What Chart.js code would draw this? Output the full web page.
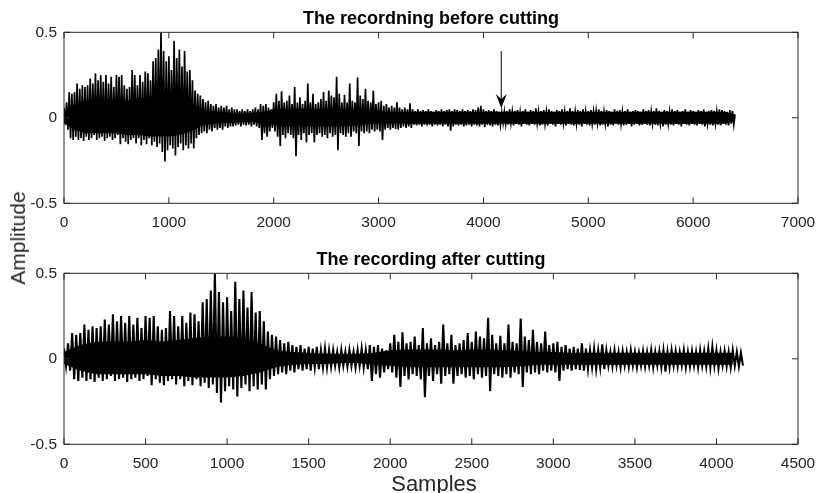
<!DOCTYPE html>
<html>
<head>
<meta charset="utf-8">
<script src="https://cdn.jsdelivr.net/npm/chart.js@4/dist/chart.umd.min.js"></script>
<style>
  body { margin: 0; background: #fff; width: 817px; height: 493px; position: relative; overflow: hidden;
         font-family: "Liberation Sans", Arial, sans-serif; }
  #top { position: absolute; left: 0; top: 0; }
  #bottom { position: absolute; left: 0; top: 245px; }
  #ylab { position: absolute; left: 18px; top: 238px; transform: translate(-50%, -50%) rotate(-90deg);
          font-size: 21px; color: #262626; white-space: nowrap; }
  #xlab { position: absolute; left: 434px; top: 484px; transform: translate(-50%, -50%);
          font-size: 22px; color: #262626; white-space: nowrap; }
</style>
</head>
<body>
<canvas id="top" width="817" height="245"></canvas>
<canvas id="bottom" width="817" height="248"></canvas>
<div id="ylab">Amplitude</div>
<div id="xlab">Samples</div>
<script>
// envelope of the recording, one max and one min every 25 samples (0..6400)
const STEP = 25;
const upper = [
  0.06, 0.09, 0.15, 0.14, 0.15, 0.20, 0.17, 0.19,
  0.18, 0.19, 0.23, 0.20, 0.26, 0.22, 0.25, 0.21,
  0.25, 0.20, 0.24, 0.18, 0.25, 0.24, 0.25, 0.19,
  0.17, 0.18, 0.28, 0.25, 0.19, 0.25, 0.21, 0.27,
  0.26, 0.22, 0.33, 0.35, 0.40, 0.50, 0.39, 0.33,
  0.36, 0.28, 0.45, 0.35, 0.40, 0.30, 0.39, 0.27,
  0.28, 0.22, 0.16, 0.14, 0.13, 0.11, 0.09, 0.10,
  0.08, 0.07, 0.08, 0.06, 0.07, 0.06, 0.07, 0.05,
  0.06, 0.05, 0.05, 0.04, 0.05, 0.04, 0.05, 0.04,
  0.05, 0.06, 0.05, 0.08, 0.07, 0.08, 0.06, 0.05,
  0.09, 0.14, 0.10, 0.155, 0.09, 0.10, 0.13, 0.08,
  0.18, 0.09, 0.12, 0.08, 0.10, 0.20, 0.09, 0.14,
  0.08, 0.09, 0.11, 0.15, 0.10, 0.16, 0.13, 0.12,
  0.24, 0.14, 0.09, 0.135, 0.09, 0.20, 0.10, 0.09,
  0.235, 0.13, 0.11, 0.17, 0.10, 0.09, 0.16, 0.08,
  0.09, 0.10, 0.07, 0.08, 0.06, 0.07, 0.06, 0.09,
  0.06, 0.05, 0.06, 0.05, 0.085, 0.05, 0.04, 0.05,
  0.04, 0.045, 0.04, 0.05, 0.04, 0.035, 0.045, 0.04,
  0.05, 0.04, 0.045, 0.05, 0.04, 0.05, 0.045, 0.04,
  0.05, 0.04, 0.045, 0.04, 0.05, 0.045, 0.06, 0.07,
  0.05, 0.04, 0.045, 0.04, 0.05, 0.04, 0.035, 0.03,
  0.035, 0.04, 0.05, 0.035, 0.04, 0.045, 0.03, 0.04,
  0.05, 0.035, 0.045, 0.04, 0.055, 0.035, 0.04, 0.045,
  0.035, 0.05, 0.04, 0.035, 0.045, 0.04, 0.05, 0.035,
  0.04, 0.055, 0.04, 0.035, 0.045, 0.04, 0.05, 0.035,
  0.04, 0.045, 0.035, 0.04, 0.05, 0.04, 0.035, 0.045,
  0.04, 0.035, 0.05, 0.04, 0.045, 0.035, 0.04, 0.05,
  0.035, 0.04, 0.045, 0.04, 0.035, 0.05, 0.04, 0.045,
  0.035, 0.04, 0.055, 0.04, 0.035, 0.045, 0.04, 0.035,
  0.05, 0.04, 0.045, 0.035, 0.04, 0.05, 0.035, 0.045,
  0.04, 0.035, 0.045, 0.04, 0.05, 0.035, 0.04, 0.045,
  0.04, 0.035, 0.05, 0.045, 0.04, 0.035, 0.045, 0.04,
  0.02
];
const lower = [
  -0.04, -0.07, -0.12, -0.13, -0.11, -0.13, -0.12, -0.135,
  -0.11, -0.13, -0.12, -0.10, -0.13, -0.12, -0.11, -0.135,
  -0.12, -0.11, -0.13, -0.12, -0.10, -0.155, -0.12, -0.14,
  -0.155, -0.13, -0.12, -0.15, -0.12, -0.16, -0.13, -0.155,
  -0.12, -0.16, -0.14, -0.17, -0.15, -0.20, -0.255, -0.19,
  -0.16, -0.18, -0.22, -0.17, -0.15, -0.19, -0.16, -0.18,
  -0.15, -0.18, -0.12, -0.10, -0.09, -0.08, -0.09, -0.07,
  -0.08, -0.06, -0.07, -0.06, -0.07, -0.05, -0.06, -0.05,
  -0.05, -0.045, -0.04, -0.05, -0.04, -0.045, -0.04, -0.05,
  -0.04, -0.05, -0.06, -0.13, -0.09, -0.11, -0.08, -0.06,
  -0.08, -0.11, -0.165, -0.10, -0.12, -0.09, -0.10, -0.12,
  -0.225, -0.10, -0.13, -0.09, -0.145, -0.10, -0.09, -0.145,
  -0.10, -0.09, -0.11, -0.10, -0.12, -0.09, -0.11, -0.10,
  -0.19, -0.09, -0.10, -0.11, -0.09, -0.11, -0.08, -0.09,
  -0.165, -0.08, -0.09, -0.08, -0.09, -0.07, -0.08, -0.07,
  -0.08, -0.13, -0.07, -0.06, -0.07, -0.06, -0.065, -0.07,
  -0.06, -0.05, -0.06, -0.05, -0.06, -0.04, -0.045, -0.04,
  -0.05, -0.04, -0.045, -0.04, -0.05, -0.04, -0.045, -0.04,
  -0.05, -0.04, -0.05, -0.075, -0.05, -0.04, -0.045, -0.04,
  -0.05, -0.045, -0.04, -0.05, -0.04, -0.045, -0.05, -0.04,
  -0.055, -0.04, -0.045, -0.05, -0.04, -0.045, -0.04, -0.03,
  -0.035, -0.04, -0.03, -0.045, -0.035, -0.04, -0.05, -0.035,
  -0.04, -0.045, -0.035, -0.04, -0.03, -0.045, -0.04, -0.035,
  -0.045, -0.035, -0.04, -0.05, -0.035, -0.04, -0.03, -0.045,
  -0.035, -0.04, -0.045, -0.035, -0.04, -0.05, -0.035, -0.04,
  -0.045, -0.035, -0.04, -0.03, -0.045, -0.04, -0.035, -0.05,
  -0.04, -0.045, -0.035, -0.04, -0.035, -0.045, -0.04, -0.035,
  -0.05, -0.04, -0.035, -0.045, -0.04, -0.035, -0.04, -0.045,
  -0.035, -0.04, -0.045, -0.035, -0.05, -0.04, -0.035, -0.04,
  -0.045, -0.035, -0.04, -0.05, -0.035, -0.04, -0.045, -0.035,
  -0.04, -0.045, -0.035, -0.04, -0.05, -0.035, -0.04, -0.045,
  -0.035, -0.04, -0.045, -0.035, -0.04, -0.045, -0.035, -0.04,
  -0.02
];
// solid core of the waveform, every 100 samples
const CORE_STEP = 100;
const coreHi = [
  0.04, 0.08, 0.10, 0.10, 0.10, 0.11, 0.10, 0.11, 0.12, 0.13,
  0.13, 0.12, 0.09, 0.05, 0.04, 0.035, 0.03, 0.03, 0.03, 0.035,
  0.05, 0.055, 0.055, 0.055, 0.05, 0.055, 0.055, 0.05, 0.045, 0.04,
  0.04, 0.035, 0.035, 0.035, 0.035, 0.035, 0.035, 0.035, 0.035, 0.035,
  0.035, 0.035, 0.035, 0.035, 0.035, 0.035, 0.035, 0.035, 0.035, 0.035,
  0.035, 0.035, 0.035, 0.035, 0.035, 0.035, 0.035, 0.035, 0.035, 0.035,
  0.035, 0.035, 0.035, 0.035, 0.02
];
const coreLo = [
  -0.03, -0.07, -0.09, -0.09, -0.09, -0.09, -0.10, -0.10, -0.11, -0.11,
  -0.11, -0.10, -0.08, -0.05, -0.035, -0.03, -0.03, -0.025, -0.025, -0.035,
  -0.04, -0.05, -0.05, -0.05, -0.05, -0.05, -0.05, -0.05, -0.045, -0.035,
  -0.035, -0.035, -0.035, -0.035, -0.035, -0.035, -0.035, -0.035, -0.035, -0.035,
  -0.035, -0.035, -0.035, -0.035, -0.035, -0.035, -0.035, -0.035, -0.035, -0.035,
  -0.035, -0.035, -0.035, -0.035, -0.035, -0.035, -0.035, -0.035, -0.035, -0.035,
  -0.035, -0.035, -0.035, -0.035, -0.02
];
const yTicks = [-0.5, 0, 0.5];
const cutPoint = 4170;       // where the recording was cut
const arrowFrom = 0.39, arrowTo = 0.057;

const AXIS = '#262626';
const FONT = '"Liberation Sans", Arial, sans-serif';

function wave(cut) {
  const pts = [];
  for (let i = 0; i < upper.length; i++) {
    const s = i * STEP;
    if (s <= cut) pts.push({ x: s, y: upper[i] });
    if (s + STEP / 2 <= cut) pts.push({ x: s + STEP / 2, y: lower[i] });
  }
  return pts;
}
function core(arr, cut) {
  return arr.map((v, i) => ({ x: i * CORE_STEP, y: v })).filter(p => p.x <= cut);
}

const boxPlugin = {
  id: 'box',
  afterDraw(chart, args, opts) {
    const { ctx, chartArea: a, scales: { x, y } } = chart;
    ctx.save();
    ctx.strokeStyle = AXIS;
    ctx.lineWidth = 1;
    ctx.strokeRect(a.left, a.top, a.right - a.left, a.bottom - a.top);
    ctx.beginPath();
    x.ticks.forEach(t => {
      const px = x.getPixelForValue(t.value);
      ctx.moveTo(px, a.bottom); ctx.lineTo(px, a.bottom - 6);
      ctx.moveTo(px, a.top); ctx.lineTo(px, a.top + 6);
    });
    yTicks.forEach(v => {
      const py = y.getPixelForValue(v);
      ctx.moveTo(a.left, py); ctx.lineTo(a.left + 6, py);
      ctx.moveTo(a.right, py); ctx.lineTo(a.right - 6, py);
    });
    ctx.stroke();
    // title
    ctx.fillStyle = '#000';
    ctx.font = 'bold 18px ' + FONT;
    ctx.textAlign = 'center';
    ctx.textBaseline = 'alphabetic';
    ctx.fillText(opts.title, (a.left + a.right) / 2, a.top - 8.5);
    // arrow marking the cut
    if (opts.arrow) {
      const ax = x.getPixelForValue(cutPoint);
      const y0 = y.getPixelForValue(arrowFrom), y1 = y.getPixelForValue(arrowTo);
      ctx.strokeStyle = '#000';
      ctx.beginPath();
      ctx.moveTo(ax, y0); ctx.lineTo(ax, y1 - 6);
      ctx.stroke();
      ctx.beginPath();
      ctx.moveTo(ax, y1);
      ctx.lineTo(ax - 5.5, y1 - 14);
      ctx.lineTo(ax, y1 - 9);
      ctx.lineTo(ax + 5.5, y1 - 14);
      ctx.closePath();
      ctx.fill();
    }
    ctx.restore();
  }
};

function makeChart(id, title, xMax, xStep, cut, padTop, xAxisH, lineW, arrow) {
  return new Chart(document.getElementById(id), {
    type: 'line',
    data: {
      datasets: [
        { data: core(coreHi, cut), fill: '+1', backgroundColor: '#000', borderWidth: 0, pointRadius: 0 },
        { data: core(coreLo, cut), fill: false, borderWidth: 0, pointRadius: 0 },
        { data: wave(cut), fill: false, borderColor: '#000', borderWidth: lineW, pointRadius: 0, tension: 0 }
      ]
    },
    options: {
      responsive: false,
      animation: false,
      events: [],
      layout: { padding: { top: padTop, right: 19, left: 0, bottom: 0 } },
      plugins: { legend: { display: false }, tooltip: { enabled: false }, box: { title: title, arrow: arrow } },
      scales: {
        x: {
          type: 'linear', min: 0, max: xMax,
          grid: { display: false, drawTicks: false },
          border: { display: false },
          ticks: { stepSize: xStep, autoSkip: false, maxRotation: 0, padding: 10, color: AXIS,
                   font: { family: FONT, size: 15.5 }, callback: v => String(v) },
          afterFit: s => { s.height = xAxisH; s.paddingLeft = 0; s.paddingRight = 0; }
        },
        y: {
          min: -0.5, max: 0.5,
          grid: { display: false, drawTicks: false },
          border: { display: false },
          ticks: { stepSize: 0.5, padding: 7, color: AXIS,
                   font: { family: FONT, size: 15.5 }, callback: v => String(v) },
          afterFit: s => { s.width = 64; s.paddingTop = 0; s.paddingBottom = 0; }
        }
      }
    },
    plugins: [boxPlugin]
  });
}

makeChart('top', 'The recordning before cutting', 7000, 1000, 6400, 32.3, 41.7, 1.7, true);
makeChart('bottom', 'The recording after cutting', 4500, 500, cutPoint, 28.3, 48.7, 2.1, false);
</script>
</body>
</html>
